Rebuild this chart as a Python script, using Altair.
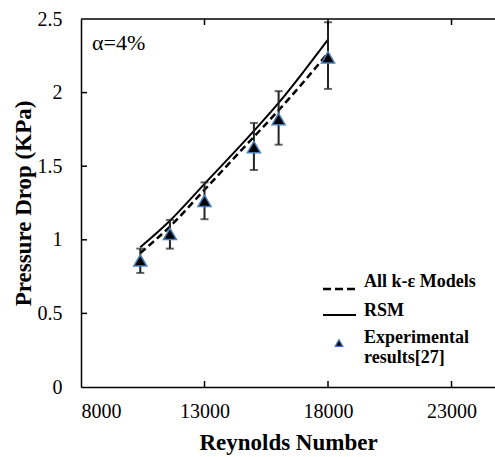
import altair as alt
import pandas as pd

# ---- data ----
re_exp = [10400, 11600, 13000, 15000, 16000, 18000]
dp_exp = [0.86, 1.04, 1.265, 1.63, 1.82, 2.24]
err_lo = [0.775, 0.94, 1.14, 1.474, 1.646, 2.025]
err_hi = [0.94, 1.135, 1.39, 1.794, 2.01, 2.478]

re_line = [10400, 11600, 13000, 15000, 16000, 17000, 18000]
dp_rsm = [0.95, 1.13, 1.38, 1.74, 1.93, 2.14, 2.36]
dp_ke = [0.91, 1.09, 1.34, 1.70, 1.88, 2.07, 2.27]

x_ticks = [8000, 13000, 18000, 23000]
y_ticks = [0, 0.5, 1, 1.5, 2, 2.5]
legend_labels = ["All k-ε Models", "RSM", "Experimental", "results[27]"]
annotation = "α=4%"

W, H = 414, 368
FONT = "Times New Roman, Liberation Serif, DejaVu Serif, serif"

exp_df = pd.DataFrame({"Re": re_exp, "dp": dp_exp, "lo": err_lo, "hi": err_hi})
lines_df = pd.DataFrame({"Re": re_line, "rsm": dp_rsm, "ke": dp_ke})
xt_df = pd.DataFrame({"Re": x_ticks[1:]})
yt_df = pd.DataFrame({"dp": y_ticks[1:-1]})
one = pd.DataFrame({"k": [0]})

xs = alt.Scale(domain=[8000, 24760], nice=False, zero=False)
ys = alt.Scale(domain=[0, 2.5], nice=False)

x_axis = alt.Axis(values=x_ticks, format="d", title="Reynolds Number", ticks=False,
                  tickSize=0, labelPadding=14, titlePadding=10, grid=False)
y_axis = alt.Axis(values=y_ticks, format="~g", title="Pressure Drop (KPa)", ticks=False,
                  tickSize=0, labelPadding=19, titlePadding=2, grid=False)

base_x = alt.X("Re:Q", scale=xs, axis=x_axis)

ke_line = alt.Chart(lines_df).mark_line(color="black", strokeWidth=2.5, strokeDash=[7, 4],
                                        interpolate="monotone").encode(
    x=base_x, y=alt.Y("ke:Q", scale=ys, axis=y_axis))
rsm_line = alt.Chart(lines_df).mark_line(color="black", strokeWidth=2,
                                         interpolate="monotone").encode(
    x=alt.X("Re:Q", scale=xs), y=alt.Y("rsm:Q", scale=ys))

err = alt.Chart(exp_df).mark_rule(color="#222222", strokeWidth=2).encode(
    x=alt.X("Re:Q", scale=xs), y=alt.Y("lo:Q", scale=ys), y2="hi:Q")
cap_lo = alt.Chart(exp_df).mark_tick(color="#222222", orient="horizontal", size=8, thickness=2).encode(
    x=alt.X("Re:Q", scale=xs), y=alt.Y("lo:Q", scale=ys))
cap_hi = alt.Chart(exp_df).mark_tick(color="#222222", orient="horizontal", size=8, thickness=2).encode(
    x=alt.X("Re:Q", scale=xs), y=alt.Y("hi:Q", scale=ys))
pts = alt.Chart(exp_df).mark_point(shape="triangle-up", filled=True, fill="black", stroke="#4a7ebb",
                                   strokeWidth=1.5, size=170, opacity=1).encode(
    x=alt.X("Re:Q", scale=xs), y=alt.Y("dp:Q", scale=ys))

# inward ticks and top frame
bt = alt.Chart(xt_df).mark_rule(color="black", strokeWidth=1.5).encode(
    x=alt.X("Re:Q", scale=xs), y=alt.value(H), y2=alt.value(H - 6))
tt = alt.Chart(xt_df).mark_rule(color="black", strokeWidth=1.5).encode(
    x=alt.X("Re:Q", scale=xs), y=alt.value(0), y2=alt.value(6))
lt = alt.Chart(yt_df).mark_rule(color="black", strokeWidth=1.5).encode(
    y=alt.Y("dp:Q", scale=ys), x=alt.value(0), x2=alt.value(6))
top = alt.Chart(one).mark_rule(color="black", strokeWidth=1.5).encode(
    x=alt.value(0), x2=alt.value(W), y=alt.value(0))

alpha_txt = alt.Chart(pd.DataFrame({"t": [annotation]})).mark_text(
    font=FONT, fontSize=22, align="left", baseline="middle", color="black").encode(
    x=alt.value(11), y=alt.value(24), text="t:N")

# manual legend
leg_dash = alt.Chart(one).mark_rule(color="black", strokeWidth=2.5, strokeDash=[8, 4]).encode(
    x=alt.value(242), x2=alt.value(275), y=alt.value(270))
leg_solid = alt.Chart(one).mark_rule(color="black", strokeWidth=2).encode(
    x=alt.value(242), x2=alt.value(275), y=alt.value(296))
leg_tri = alt.Chart(one).mark_point(shape="triangle-up", filled=True, fill="black", stroke="#4a7ebb",
                                    strokeWidth=1.2, size=60, opacity=1).encode(
    x=alt.value(258), y=alt.value(324))
leg_texts = []
for lab, yy in zip(legend_labels, [263, 292, 319, 339]):
    leg_texts.append(alt.Chart(pd.DataFrame({"t": [lab]})).mark_text(
        font=FONT, fontSize=18, fontWeight="bold", align="left", baseline="middle", color="black").encode(
        x=alt.value(283), y=alt.value(yy), text="t:N"))

chart = alt.layer(
    ke_line, rsm_line, err, cap_lo, cap_hi, pts, bt, tt, lt, top, alpha_txt,
    leg_dash, leg_solid, leg_tri, *leg_texts
).properties(
    width=W, height=H,
    autosize=alt.AutoSizeParams(type="none"),
    padding={"left": 81, "top": 19, "right": 0, "bottom": 70},
    background="white",
).configure_view(strokeWidth=0).configure_axis(
    domainColor="black", domainWidth=1.5,
    labelFont=FONT, labelFontSize=20, labelColor="black",
    titleFont=FONT, titleFontSize=23, titleFontWeight="bold", titleColor="black",
)

chart.save("out.html", embed_options={"renderer": "svg", "actions": False})
